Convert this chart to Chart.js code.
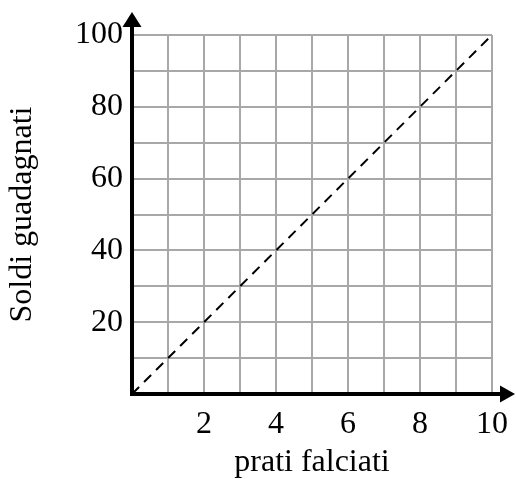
<!DOCTYPE html>
<html>
<head>
<meta charset="utf-8">
<script src="https://cdn.jsdelivr.net/npm/chart.js@4"></script>
<style>
  html, body { margin: 0; padding: 0; background: #fff; }
  #wrap { width: 516px; height: 479px; }
</style>
</head>
<body>
<div id="wrap"><canvas id="chart" width="516" height="479"></canvas></div>
<script>
// dati del grafico
const pratiFalciati = [0, 10];
const soldiGuadagnati = [0, 100];
const xTickLabels = [2, 4, 6, 8, 10];
const yTickLabels = [20, 40, 60, 80, 100];

const serif = "'Liberation Serif', 'Times New Roman', serif";

// assi neri con le frecce
const arrowAxes = {
    id: 'arrowAxes',
    afterDatasetsDraw(chart) {
        const { ctx, chartArea: a } = chart;
        ctx.save();
        ctx.strokeStyle = '#000';
        ctx.fillStyle = '#000';
        ctx.lineWidth = 4;
        ctx.beginPath();
        ctx.moveTo(a.left, a.bottom + 2);
        ctx.lineTo(a.left, a.top - 10);
        ctx.moveTo(a.left - 2, a.bottom);
        ctx.lineTo(a.right + 10, a.bottom);
        ctx.stroke();
        // freccia asse y
        ctx.beginPath();
        ctx.moveTo(a.left, a.top - 23);
        ctx.lineTo(a.left - 9.5, a.top - 8);
        ctx.lineTo(a.left + 9.5, a.top - 8);
        ctx.closePath();
        ctx.fill();
        // freccia asse x
        ctx.beginPath();
        ctx.moveTo(a.right + 23, a.bottom);
        ctx.lineTo(a.right + 8, a.bottom - 8.5);
        ctx.lineTo(a.right + 8, a.bottom + 8.5);
        ctx.closePath();
        ctx.fill();
        ctx.restore();
    }
};

const points = pratiFalciati.map((x, i) => ({ x: x, y: soldiGuadagnati[i] }));

new Chart(document.getElementById('chart'), {
    type: 'line',
    data: {
        datasets: [{
            data: points,
            borderColor: '#000',
            borderWidth: 2,
            borderDash: [10, 7],
            pointRadius: 0,
            fill: false,
            tension: 0
        }]
    },
    options: {
        responsive: false,
        animation: false,
        layout: { padding: { top: 35, right: 24, left: 0, bottom: 0 } },
        plugins: { legend: { display: false }, tooltip: { enabled: false } },
        scales: {
            x: {
                type: 'linear',
                min: 0,
                max: 10,
                afterFit: (s) => {
                    s.height = 85;
                    s.paddingLeft = 0;
                    s.paddingRight = 0;
                },
                border: { display: false },
                grid: { color: '#a8a8a8', lineWidth: 2, drawTicks: false },
                ticks: {
                    stepSize: 1,
                    autoSkip: false,
                    maxRotation: 0,
                    padding: 15,
                    color: '#000',
                    font: { family: serif, size: 32, lineHeight: 1 },
                    callback: (v) => xTickLabels.includes(v) ? String(v) : ''
                },
                title: {
                    display: true,
                    text: 'prati falciati',
                    color: '#000',
                    font: { family: serif, size: 32, lineHeight: 1 },
                    padding: { top: 0, bottom: 0 }
                }
            },
            y: {
                type: 'linear',
                min: 0,
                max: 100,
                afterFit: (s) => {
                    s.width = 132;
                    s.paddingTop = 0;
                    s.paddingBottom = 0;
                },
                border: { display: false },
                grid: { color: '#a8a8a8', lineWidth: 2, drawTicks: false },
                ticks: {
                    stepSize: 10,
                    autoSkip: false,
                    padding: 9,
                    color: '#000',
                    font: { family: serif, size: 32, lineHeight: 1 },
                    callback: (v) => yTickLabels.includes(v) ? String(v) : ''
                },
                title: {
                    display: true,
                    text: 'Soldi guadagnati',
                    color: '#000',
                    font: { family: serif, size: 32, lineHeight: 1 },
                    padding: { top: 7, bottom: 0 }
                }
            }
        }
    },
    plugins: [arrowAxes]
});
</script>
</body>
</html>
